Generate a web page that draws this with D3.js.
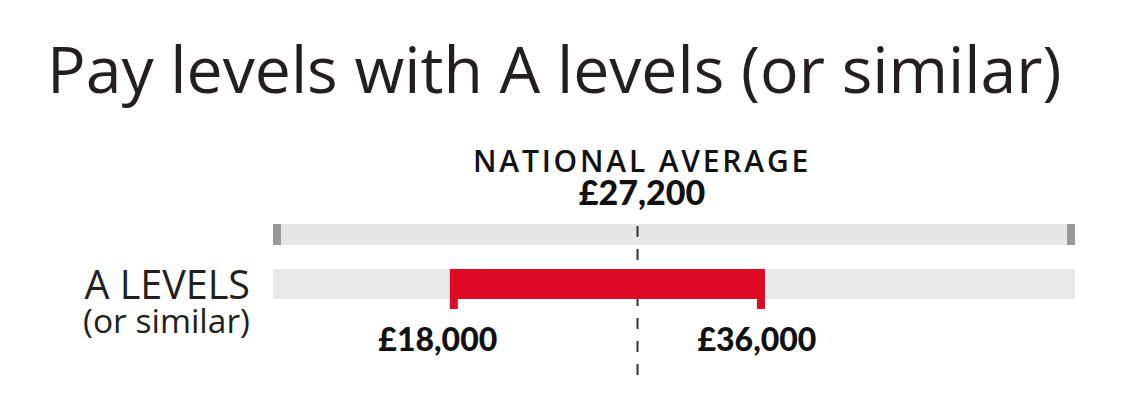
<!DOCTYPE html>
<html><head><meta charset="utf-8">
<script src="https://cdn.jsdelivr.net/npm/d3@7"></script>
<style>
body{margin:0;background:#fff;}
svg{display:block;}
</style></head>
<body>
<svg id="chart" width="1140" height="420"></svg>
<script>
const title = "Pay levels with A levels (or similar)";
const categories = ["A LEVELS"];
const categorySub = ["(or similar)"];
const payLow = [18000];
const payHigh = [36000];
const nationalAverage = 27200;
const averageLabel = "NATIONAL AVERAGE";
const fmt = v => "£" + d3.format(",")(v);

const svg = d3.select("#chart");
const x = d3.scaleLog().domain([12200, 71200]).range([273, 1075]);

svg.append("text").attr("x", 47).attr("y", 93)
  .attr("font-family", "Open Sans").attr("font-size", 64.3).attr("fill", "#231f20")
  .text(title);

// national average label
svg.append("text").attr("x", 642).attr("y", 172).attr("text-anchor", "middle")
  .attr("font-family", "Open Sans").attr("font-weight", 600).attr("font-size", 30)
  .attr("letter-spacing", 2.8).attr("fill", "#111").text(averageLabel);
svg.append("text").attr("x", 642).attr("y", 205).attr("text-anchor", "middle")
  .attr("font-family", "Lato").attr("font-weight", 900).attr("font-size", 34)
  .attr("fill", "#111").text(fmt(nationalAverage));

// top reference bar
const [r0, r1] = x.range();
svg.append("rect").attr("x", r0).attr("y", 224).attr("width", r1 - r0).attr("height", 21).attr("fill", "#e6e6e6");
svg.append("rect").attr("x", r0).attr("y", 224).attr("width", 8).attr("height", 21).attr("fill", "#999");
svg.append("rect").attr("x", r1 - 8).attr("y", 224).attr("width", 8).attr("height", 21).attr("fill", "#999");

const y = d3.scaleBand().domain(categories).range([269, 299]);

categories.forEach((c, i) => {
  svg.append("rect").attr("x", r0).attr("y", y(c)).attr("width", r1 - r0).attr("height", y.bandwidth()).attr("fill", "#e9e9e9");
});

// average dashed line
svg.append("line").attr("x1", x(nationalAverage)).attr("x2", x(nationalAverage))
  .attr("y1", 226).attr("y2", 380).attr("stroke", "#333").attr("stroke-width", 2)
  .attr("stroke-dasharray", "11,12");

categories.forEach((c, i) => {
  const x0 = x(payLow[i]), x1 = x(payHigh[i]);
  const yy = y(c), h = y.bandwidth();
  svg.append("rect").attr("x", x0).attr("y", yy).attr("width", x1 - x0).attr("height", h).attr("fill", "#dc0b23");
  svg.append("rect").attr("x", x0).attr("y", yy + h).attr("width", 8).attr("height", 10).attr("fill", "#dc0b23");
  svg.append("rect").attr("x", x1 - 8).attr("y", yy + h).attr("width", 8).attr("height", 10).attr("fill", "#dc0b23");
  svg.append("text").attr("x", x0 - 12).attr("y", yy + h + 52).attr("text-anchor", "middle")
    .attr("font-family", "Lato").attr("font-weight", 900).attr("font-size", 32).attr("fill", "#111")
    .text(fmt(payLow[i]));
  svg.append("text").attr("x", x1 - 8).attr("y", yy + h + 52).attr("text-anchor", "middle")
    .attr("font-family", "Lato").attr("font-weight", 900).attr("font-size", 32).attr("fill", "#111")
    .text(fmt(payHigh[i]));
  svg.append("text").attr("x", 250).attr("y", yy + 30).attr("text-anchor", "end")
    .attr("font-family", "Open Sans").attr("font-weight", 400).attr("font-size", 39.5).attr("fill", "#231f20")
    .text(c);
  svg.append("text").attr("x", 250).attr("y", yy + 64).attr("text-anchor", "end")
    .attr("font-family", "Open Sans").attr("font-weight", 400).attr("font-size", 33.5).attr("fill", "#231f20")
    .text(categorySub[i]);
});
</script>
</body></html>
